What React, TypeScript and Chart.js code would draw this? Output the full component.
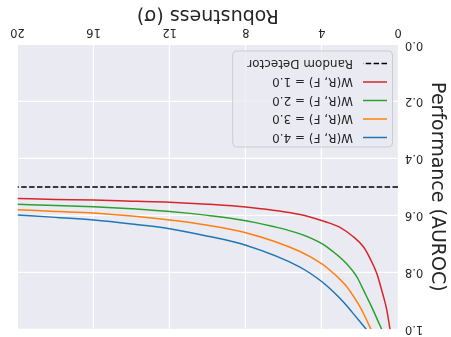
import React, { useEffect, useRef } from "react";
import { Chart, registerables } from "chart.js";

Chart.register(...registerables);

// ---- data ----
const sigmaTicks = [0, 4, 8, 12, 16, 20];
const aurocTicks = [0, 0.2, 0.4, 0.6, 0.8, 1.0];

const w1Sigma = [0.42, 0.59, 0.86, 1.12, 1.47, 1.82, 2.35, 3.05, 3.98, 5.15, 8, 10, 12, 14, 16, 18, 20];
const w1Auroc = [1.0, 0.932, 0.862, 0.803, 0.751, 0.71, 0.675, 0.642, 0.619, 0.597, 0.571, 0.561, 0.554, 0.55, 0.546, 0.544, 0.541];

const w2Sigma = [0.86, 1.38, 1.73, 2.17, 2.7, 3.4, 3.98, 5.15, 8, 10, 12, 14, 16, 18, 20];
const w2Auroc = [1.0, 0.922, 0.874, 0.815, 0.77, 0.728, 0.7, 0.665, 0.619, 0.6, 0.586, 0.577, 0.57, 0.565, 0.561];

const w3Sigma = [1.42, 1.91, 2.26, 2.7, 3.4, 3.98, 5.15, 8, 10, 12, 14, 16, 18, 20];
const w3Auroc = [1.0, 0.932, 0.892, 0.85, 0.803, 0.771, 0.727, 0.661, 0.635, 0.616, 0.602, 0.592, 0.586, 0.58];

const w4Sigma = [1.67, 2.35, 2.87, 3.4, 3.98, 5.15, 8, 10, 12, 14, 16, 18, 20];
const w4Auroc = [1.0, 0.945, 0.904, 0.868, 0.834, 0.782, 0.705, 0.673, 0.647, 0.63, 0.616, 0.607, 0.599];

const randomSigma = [0, 20];
const randomAuroc = [0.5, 0.5];

const seriesLabels = ["W(R, F) = 1.0", "W(R, F) = 2.0", "W(R, F) = 3.0", "W(R, F) = 4.0"];
const randomLabel = "Random Detector";
const xTitle = "Robustness (σ)";
const yTitle = "Performance (AUROC)";

const RED = "#d62728";
const GREEN = "#2ca02c";
const ORANGE = "#ff7f0e";
const BLUE = "#1f77b4";
const TEXT = "#262626";
const FONT = "'DejaVu Sans', sans-serif";

const toPts = (xs: number[], ys: number[]) => xs.map((x, i) => ({ x, y: ys[i] }));

const bgPlugin = {
  id: "bgPlugin",
  beforeDraw(chart: any) {
    const { ctx, chartArea: a } = chart;
    ctx.save();
    ctx.fillStyle = "#eaeaf2";
    ctx.fillRect(a.left, a.top, a.right - a.left, a.bottom - a.top);
    ctx.restore();
  },
};

const legendPlugin = {
  id: "boxLegend",
  afterDatasetsDraw(chart: any) {
    const { ctx, chartArea: a } = chart;
    const items = [
      { label: seriesLabels[3], color: BLUE, dash: [] as number[] },
      { label: seriesLabels[2], color: ORANGE, dash: [] as number[] },
      { label: seriesLabels[1], color: GREEN, dash: [] as number[] },
      { label: seriesLabels[0], color: RED, dash: [] as number[] },
      { label: randomLabel, color: "#000000", dash: [5.5, 2.4] },
    ];
    ctx.save();
    ctx.font = `12px ${FONT}`;
    let maxW = 0;
    items.forEach((it) => (maxW = Math.max(maxW, ctx.measureText(it.label).width)));
    const boxH = 96;
    const boxW = 40 + maxW + 14;
    const left = a.left + 5;
    const top = a.bottom - 7 - boxH;
    ctx.beginPath();
    ctx.roundRect(left + 0.5, top + 0.5, boxW, boxH, 4);
    ctx.fillStyle = "rgba(234,234,242,0.8)";
    ctx.fill();
    ctx.strokeStyle = "#cccccc";
    ctx.lineWidth = 1;
    ctx.stroke();
    items.forEach((it, i) => {
      const y = top + 10 + i * 18.5;
      ctx.beginPath();
      ctx.setLineDash(it.dash);
      ctx.strokeStyle = it.color;
      ctx.lineWidth = 1.5;
      ctx.moveTo(left + 6, y);
      ctx.lineTo(left + 30, y);
      ctx.stroke();
      ctx.setLineDash([]);
      ctx.fillStyle = TEXT;
      ctx.textBaseline = "middle";
      ctx.textAlign = "left";
      ctx.fillText(it.label, left + 40, y + 0.5);
    });
    ctx.restore();
  },
};

export default function App() {
  const ref = useRef<HTMLCanvasElement | null>(null);

  useEffect(() => {
    if (!ref.current) return;
    const line = (data: any[], color: string, dash: number[] = []) => ({
      data,
      borderColor: color,
      backgroundColor: color,
      borderWidth: 1.5,
      borderDash: dash,
      pointRadius: 0,
      cubicInterpolationMode: "monotone" as const,
      fill: false,
    });
    const chart = new Chart(ref.current, {
      type: "line",
      data: {
        datasets: [
          { label: randomLabel, ...line(toPts(randomSigma, randomAuroc), "#000000", [5.5, 2.4]) },
          { label: seriesLabels[0], ...line(toPts(w1Sigma, w1Auroc), RED) },
          { label: seriesLabels[1], ...line(toPts(w2Sigma, w2Auroc), GREEN) },
          { label: seriesLabels[2], ...line(toPts(w3Sigma, w3Auroc), ORANGE) },
          { label: seriesLabels[3], ...line(toPts(w4Sigma, w4Auroc), BLUE) },
        ],
      },
      options: {
        animation: false,
        responsive: false,
        devicePixelRatio: 1,
        layout: { padding: { left: 0, right: 17.5, top: 7.7, bottom: 0 } },
        plugins: { legend: { display: false }, tooltip: { enabled: false } },
        scales: {
          x: {
            type: "linear",
            min: 0,
            max: 20,
            afterBuildTicks: (s: any) => {
              s.ticks = sigmaTicks.map((v) => ({ value: v }));
            },
            afterFit: (s: any) => {
              s.height = 44.5;
              s.paddingLeft = 0;
              s.paddingRight = 0;
            },
            ticks: {
              font: { family: FONT, size: 11.5 },
              color: TEXT,
              padding: 6,
              maxRotation: 0,
              callback: (v: any) => String(v),
            },
            grid: { color: "#ffffff", lineWidth: 1.2, drawTicks: false },
            border: { display: false },
            title: {
              display: true,
              text: xTitle,
              color: TEXT,
              font: { family: FONT, size: 19 },
              padding: { top: 0, bottom: 4 },
            },
          },
          y: {
            type: "linear",
            min: 0,
            max: 1,
            afterBuildTicks: (s: any) => {
              s.ticks = aurocTicks.map((v) => ({ value: v }));
            },
            afterFit: (s: any) => {
              s.width = 53;
              s.paddingTop = 0;
              s.paddingBottom = 0;
            },
            ticks: {
              font: { family: FONT, size: 11.5 },
              color: TEXT,
              padding: 7,
              callback: (v: any) => Number(v).toFixed(1),
            },
            grid: { color: "#ffffff", lineWidth: 1.2, drawTicks: false },
            border: { display: false },
            title: {
              display: true,
              text: yTitle,
              color: TEXT,
              font: { family: FONT, size: 19 },
              padding: { top: 2.6, bottom: 0 },
            },
          },
        },
      },
      plugins: [bgPlugin, legendPlugin],
    });
    return () => chart.destroy();
  }, []);

  return (
    <div
      style={{
        position: "fixed",
        left: 0,
        top: 0,
        width: 451,
        height: 337,
        transform: "rotate(180deg)",
        background: "#ffffff",
      }}
    >
      <canvas ref={ref} width={451} height={337} style={{ display: "block", width: 451, height: 337 }} />
    </div>
  );
}
